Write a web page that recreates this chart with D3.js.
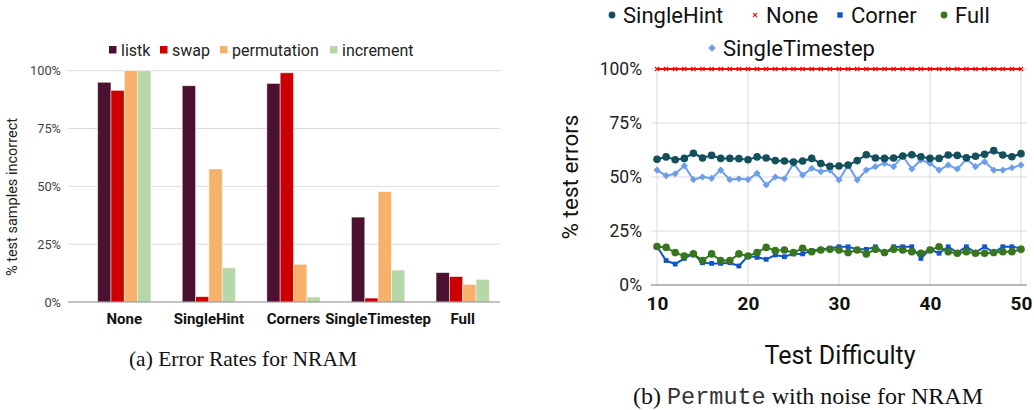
<!DOCTYPE html>
<html>
<head>
<meta charset="utf-8">
<script src="https://cdn.jsdelivr.net/npm/d3@7"></script>
<style>
  body { margin: 0; background: #fff; }
  text { font-family: Roboto, "Noto Sans", sans-serif; }
  .caption { font-family: "Liberation Serif", "DejaVu Serif", serif; }
  .mono { font-family: "Liberation Mono", "DejaVu Sans Mono", monospace; }
</style>
</head>
<body>
<div id="canvas"></div>
<script>
// ---- left chart data (a) ----
var groups = ["None", "SingleHint", "Corners", "SingleTimestep", "Full"];
var tasks = ["listk", "swap", "permutation", "increment"];
var taskColors = ["#4c1130", "#cc0000", "#f6b26b", "#b6d7a8"];
var listk = [95, 93.5, 94.5, 36.7, 12.7];
var swap = [91.5, 2.3, 99.1, 1.7, 11];
var permutation = [100, 57.5, 16.3, 47.7, 7.6];
var increment = [100, 14.8, 2.2, 13.8, 9.8];
var leftTicks = [0, 25, 50, 75, 100];

// ---- right chart data (b) ----
var difficulty = d3.range(10, 51);
var singleHint = [58.2, 59.3, 58.0, 58.6, 61.0, 58.8, 60.0, 58.6, 58.6, 58.5,
  58.0, 59.3, 58.8, 57.6, 57.4, 56.9, 57.4, 58.6, 56.2, 55.0,
  55.1, 55.5, 57.6, 60.3, 58.8, 58.6, 58.8, 59.7, 60.3, 59.4,
  58.6, 58.6, 60.2, 60.0, 58.9, 59.6, 60.5, 62.2, 60.2, 59.4, 60.8];
var none = [100, 100, 100, 100, 100, 100, 100, 100, 100, 100,
  100, 100, 100, 100, 100, 100, 100, 100, 100, 100,
  100, 100, 100, 100, 100, 100, 100, 100, 100, 100,
  100, 100, 100, 100, 100, 100, 100, 100, 100, 100, 100];
var corner = [17.8, 11.3, 9.7, 12.3, 14.4, 10.3, 10.0, 10.0, 10.3, 8.8,
  13.4, 12.8, 11.9, 13.9, 13.1, 14.4, 14.4, 16.0, 16.5, 17.0,
  17.7, 17.7, 16.5, 16.5, 17.7, 14.7, 17.7, 17.7, 17.7, 12.3,
  16.5, 14.7, 17.7, 15.0, 17.7, 15.0, 17.7, 15.0, 17.7, 17.7, 17.0];
var full = [17.8, 17.4, 15.0, 13.4, 14.4, 11.3, 14.4, 11.3, 11.3, 14.4,
  13.4, 15.0, 17.4, 15.9, 16.2, 15.0, 17.0, 15.4, 16.2, 16.5,
  16.2, 15.0, 16.2, 14.4, 16.5, 15.0, 16.5, 16.2, 15.4, 14.7,
  16.2, 17.7, 15.4, 14.7, 15.4, 14.7, 14.7, 15.0, 15.4, 15.4, 16.5];
var singleTimestep = [53.2, 50.6, 51.5, 55.2, 48.8, 50.0, 49.4, 53.2, 48.8, 49.2,
  48.8, 51.7, 46.3, 50.0, 49.2, 56.3, 50.9, 54.0, 52.5, 53.2,
  48.6, 55.5, 48.6, 53.2, 54.8, 56.3, 54.8, 59.7, 53.7, 57.9,
  56.3, 53.2, 55.5, 53.7, 58.2, 54.8, 57.1, 53.2, 53.2, 54.3, 55.5];
var rightTicksY = [0, 25, 50, 75, 100];
var rightTicksX = [10, 20, 30, 40, 50];

var svg = d3.select("#canvas")
  .append("svg")
  .attr("width", 1034)
  .attr("height", 410);

svg.append("rect").attr("width", 1034).attr("height", 410).attr("fill", "#fff");

// ================= left: grouped bars =================
var lx = d3.scaleBand()
  .domain(groups)
  .range([82, 505])
  .paddingInner(0.37)
  .paddingOuter(0.185);

var lxInner = d3.scaleBand()
  .domain(tasks)
  .range([0, lx.bandwidth()]);

var ly = d3.scaleLinear()
  .domain([0, 100])
  .range([302, 70.7]);

var left = svg.append("g");

left.selectAll(".grid")
  .data(leftTicks.filter(d => d > 0))
  .enter().append("line")
  .attr("x1", 68).attr("x2", 500)
  .attr("y1", d => ly(d)).attr("y2", d => ly(d))
  .attr("stroke", "#dcdcdc");

var leftAxis = d3.axisLeft(ly)
  .tickValues(leftTicks)
  .tickSize(0)
  .tickPadding(7)
  .tickFormat(d => d + "%");

left.append("g")
  .attr("transform", "translate(68,0)")
  .call(leftAxis)
  .call(g => g.select(".domain").remove())
  .selectAll("text")
  .attr("font-size", 12.8)
  .attr("fill", "#444");

var series = [listk, swap, permutation, increment];
var barData = [];
groups.forEach(function (g, i) {
  tasks.forEach(function (t, j) {
    barData.push({group: g, task: t, value: series[j][i], color: taskColors[j]});
  });
});

left.selectAll(".bar")
  .data(barData)
  .enter().append("rect")
  .attr("x", d => lx(d.group) + lxInner(d.task))
  .attr("width", lxInner.bandwidth())
  .attr("y", d => ly(d.value))
  .attr("height", d => ly(0) - ly(d.value))
  .attr("fill", d => d.color)
  .attr("stroke", "#fff")
  .attr("stroke-opacity", 0.6)
  .attr("stroke-width", 0.8);

left.append("line")
  .attr("x1", 68).attr("x2", 500)
  .attr("y1", ly(0)).attr("y2", ly(0))
  .attr("stroke", "#888").attr("stroke-width", 1.2);

var leftXAxis = d3.axisBottom(lx).tickSize(0).tickPadding(11);
left.append("g")
  .attr("transform", "translate(0," + ly(0) + ")")
  .call(leftXAxis)
  .call(g => g.select(".domain").remove())
  .selectAll("text")
  .attr("font-size", 15)
  .attr("font-weight", "bold")
  .attr("fill", "#111");

// legend (a)
var legendX = [109, 160, 220, 330];
var legA = left.selectAll(".lega")
  .data(tasks)
  .enter().append("g")
  .attr("transform", (d, i) => "translate(" + legendX[i] + ",50)");
legA.append("rect")
  .attr("x", 0).attr("y", -4).attr("width", 7.5).attr("height", 7.5)
  .attr("fill", (d, i) => taskColors[i]);
legA.append("text")
  .attr("x", 12).attr("y", 5.8)
  .attr("font-size", 16)
  .attr("fill", "#222")
  .text(d => d);

left.append("text")
  .attr("transform", "translate(17,197) rotate(-90)")
  .attr("text-anchor", "middle")
  .attr("font-size", 14.5)
  .attr("fill", "#222")
  .text("% test samples incorrect");

left.append("text")
  .attr("class", "caption")
  .attr("x", 243).attr("y", 366)
  .attr("text-anchor", "middle")
  .attr("font-size", 21.5)
  .attr("fill", "#111")
  .text("(a) Error Rates for NRAM");

// ================= right: line chart =================
var rx = d3.scaleLinear().domain([10, 50]).range([657, 1021]);
var ry = d3.scaleLinear().domain([0, 100]).range([285, 69]);

var right = svg.append("g");

right.selectAll(".hgrid")
  .data(rightTicksY.filter(d => d > 0))
  .enter().append("line")
  .attr("x1", 651).attr("x2", 1027)
  .attr("y1", d => ry(d)).attr("y2", d => ry(d))
  .attr("stroke", "#d9d9d9");

right.selectAll(".vgrid")
  .data(rightTicksX)
  .enter().append("line")
  .attr("x1", d => rx(d)).attr("x2", d => rx(d))
  .attr("y1", ry(100)).attr("y2", ry(0))
  .attr("stroke", "#d9d9d9");

right.append("line")
  .attr("x1", 651).attr("x2", 1027)
  .attr("y1", ry(0)).attr("y2", ry(0))
  .attr("stroke", "#777").attr("stroke-width", 1.2);

right.append("g")
  .attr("transform", "translate(651,0)")
  .call(d3.axisLeft(ry).tickValues(rightTicksY).tickSize(0).tickPadding(9).tickFormat(d => d + "%"))
  .call(g => g.select(".domain").remove())
  .selectAll("text")
  .attr("font-size", 17.5)
  .attr("fill", "#222");

right.append("g")
  .attr("transform", "translate(0," + ry(0) + ")")
  .call(d3.axisBottom(rx).tickValues(rightTicksX).tickSize(0).tickPadding(12))
  .call(g => g.select(".domain").remove())
  .selectAll("text")
  .attr("font-size", 19)
  .attr("font-weight", "bold")
  .attr("fill", "#111");

var line = d3.line()
  .x(d => rx(d[0]))
  .y(d => ry(d[1]));

var lineSeries = [
  {name: "SingleHint", values: singleHint, color: "#134f5c", shape: "circle"},
  {name: "None", values: none, color: "#ff0000", shape: "cross"},
  {name: "Corner", values: corner, color: "#1155cc", shape: "square"},
  {name: "Full", values: full, color: "#38761d", shape: "circle"},
  {name: "SingleTimestep", values: singleTimestep, color: "#6d9eeb", shape: "diamond"}
];

function drawMarker(sel, shape, color, size) {
  if (shape === "circle") {
    sel.append("circle").attr("r", size).attr("fill", color);
  } else if (shape === "square") {
    sel.append("rect").attr("x", -size * 0.8).attr("y", -size * 0.8)
      .attr("width", size * 1.6).attr("height", size * 1.6).attr("fill", color);
  } else if (shape === "diamond") {
    sel.append("path")
      .attr("d", d3.symbol().type(d3.symbolDiamond2).size(size * size * 3.2)())
      .attr("fill", color);
  } else {
    sel.append("path")
      .attr("d", d3.symbol().type(d3.symbolTimes).size(size * size * 2)())
      .attr("fill", "none")
      .attr("stroke", color)
      .attr("stroke-width", 1.2);
  }
}

var markerSize = {circle: 3.8, square: 3, diamond: 3.2, cross: 2.6};
var drawOrder = [2, 3, 4, 0, 1];
drawOrder.forEach(function (k) {
  var s = lineSeries[k];
  var pts = difficulty.map((x, i) => [x, s.values[i]]);
  right.append("path")
    .datum(pts)
    .attr("d", line)
    .attr("fill", "none")
    .attr("stroke", s.color)
    .attr("stroke-width", 2);
  right.selectAll(".m" + k)
    .data(pts)
    .enter().append("g")
    .attr("transform", d => "translate(" + rx(d[0]) + "," + ry(d[1]) + ")")
    .each(function () { drawMarker(d3.select(this), s.shape, s.color, markerSize[s.shape]); });
});

// legend (b)
var legPos = [[612, 15], [755, 15], [840, 15], [944, 15], [712, 48]];
lineSeries.forEach(function (s, i) {
  var g = right.append("g").attr("transform", "translate(" + legPos[i][0] + "," + legPos[i][1] + ")");
  drawMarker(g, s.shape, s.color, s.shape === "cross" ? 2.4 : 3.4);
  g.append("text")
    .attr("x", 11).attr("y", 8)
    .attr("font-size", 22)
    .attr("fill", "#111")
    .text(s.name);
});

right.append("text")
  .attr("transform", "translate(578,177) rotate(-90)")
  .attr("text-anchor", "middle")
  .attr("font-size", 22.5)
  .attr("fill", "#111")
  .text("% test errors");

right.append("text")
  .attr("x", 840).attr("y", 364)
  .attr("text-anchor", "middle")
  .attr("font-size", 25)
  .attr("fill", "#111")
  .text("Test Difficulty");

var cap = right.append("text")
  .attr("class", "caption")
  .attr("x", 808).attr("y", 404)
  .attr("text-anchor", "middle")
  .attr("font-size", 24)
  .attr("fill", "#111");
cap.append("tspan").text("(b) ");
cap.append("tspan").attr("class", "mono").attr("font-size", 23.5).attr("fill", "#333").text("Permute");
cap.append("tspan").text(" with noise for NRAM");
</script>
</body>
</html>
